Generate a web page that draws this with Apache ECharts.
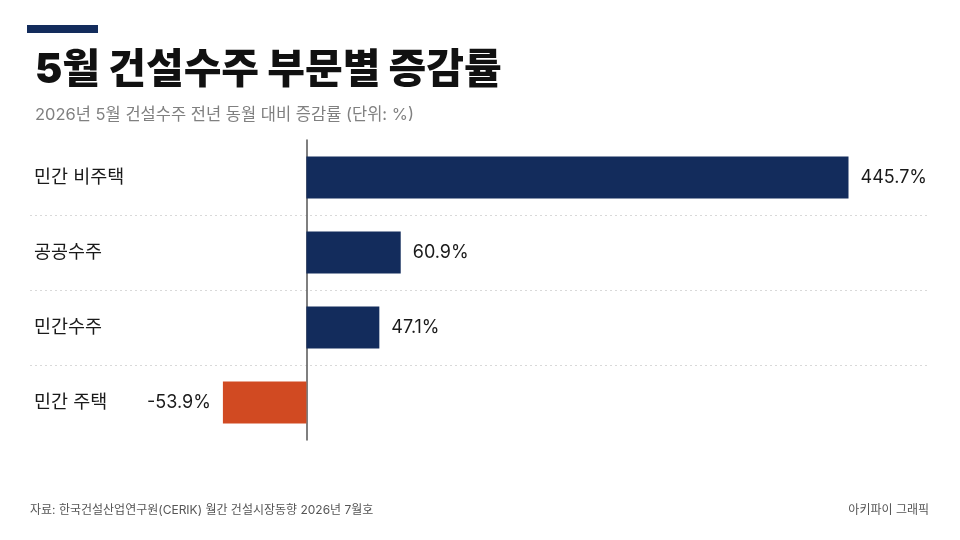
<!DOCTYPE html>
<html>
<head>
<meta charset="utf-8">
<script src="https://cdn.jsdelivr.net/npm/echarts@6/dist/echarts.min.js"></script>
<style>
  html, body { margin: 0; padding: 0; background: #ffffff; }
  #main { width: 960px; height: 540px; }
</style>
</head>
<body>
<div id="main"></div>
<script>
var categories = ['민간 비주택', '공공수주', '민간수주', '민간 주택'];
var values = [445.7, 60.9, 47.1, -53.9];

var titleText = '5월 건설수주 부문별 증감률';
var subText = '2026년 5월 건설수주 전년 동월 대비 증감률 (단위: %)';
var sourceText = '자료: 한국건설산업연구원(CERIK) 월간 건설시장동향 2026년 7월호';
var brandText = '아키파이 그래픽';

// 라틴 글자는 Inter, 한글은 Noto Sans CJK KR
var FONT = 'Inter, "Noto Sans CJK KR", sans-serif';
var NAVY = '#132c5c';
var ORANGE = '#d14a22';

// 막대 데이터 (음수는 주황색, 라벨 왼쪽)
var barData = values.map(function (v) {
    return {
        value: v,
        itemStyle: { color: v < 0 ? ORANGE : NAVY },
        label: { position: v < 0 ? 'left' : 'right' }
    };
});

var myChart = echarts.init(document.getElementById('main'));
var option = {
    backgroundColor: '#ffffff',
    animation: false,
    graphic: [
        { type: 'rect', left: 27, top: 25, shape: { width: 71, height: 8 }, style: { fill: NAVY } },
        { type: 'text', left: 30, top: 504, style: { text: sourceText, font: '12px ' + FONT, fill: '#555555' } },
        { type: 'text', right: 31, top: 504, style: { text: brandText, font: '12px ' + FONT, fill: '#555555' } }
    ],
    title: [
        {
            text: titleText, left: 30, top: 45,
            textStyle: { fontFamily: FONT, fontSize: 41, fontWeight: 900, color: '#111111' }
        },
        {
            text: subText, left: 30, top: 102,
            textStyle: { fontFamily: FONT, fontSize: 16.5, fontWeight: 'normal', color: '#808080' }
        }
    ],
    grid: [
        { left: 151.5, right: 111.5, top: 140, height: 300, containLabel: false },
        { left: 30, right: 30, top: 140, height: 300, containLabel: false }
    ],
    xAxis: [
        { type: 'value', gridIndex: 0, min: -100, max: 350, show: false },
        { type: 'value', gridIndex: 1, min: 0, max: 1, show: false }
    ],
    yAxis: [
        {
            type: 'category', gridIndex: 0, data: categories, inverse: true,
            axisLine: { show: true, onZero: true, lineStyle: { color: '#555555', width: 1.5 } },
            axisTick: { show: false },
            splitLine: { show: false },
            axisLabel: {
                align: 'left', margin: 117.5,
                fontFamily: FONT, fontSize: 18.5, color: '#1a1a1a'
            }
        },
        {
            type: 'category', gridIndex: 1, data: categories, inverse: true,
            axisLine: { show: false }, axisTick: { show: false }, axisLabel: { show: false },
            splitLine: {
                show: true, showMinLine: false, showMaxLine: false,
                lineStyle: { color: '#d9d9d9', type: [2, 3], width: 1 }
            }
        }
    ],
    series: [
        {
            type: 'bar',
            xAxisIndex: 0, yAxisIndex: 0,
            data: barData,
            barWidth: 42,
            clip: true,
            label: {
                show: true,
                distance: 12,
                formatter: function (p) { return p.value + '%'; },
                fontFamily: FONT, fontSize: 18, color: '#1a1a1a'
            }
        }
    ]
};
myChart.setOption(option);
</script>
</body>
</html>
